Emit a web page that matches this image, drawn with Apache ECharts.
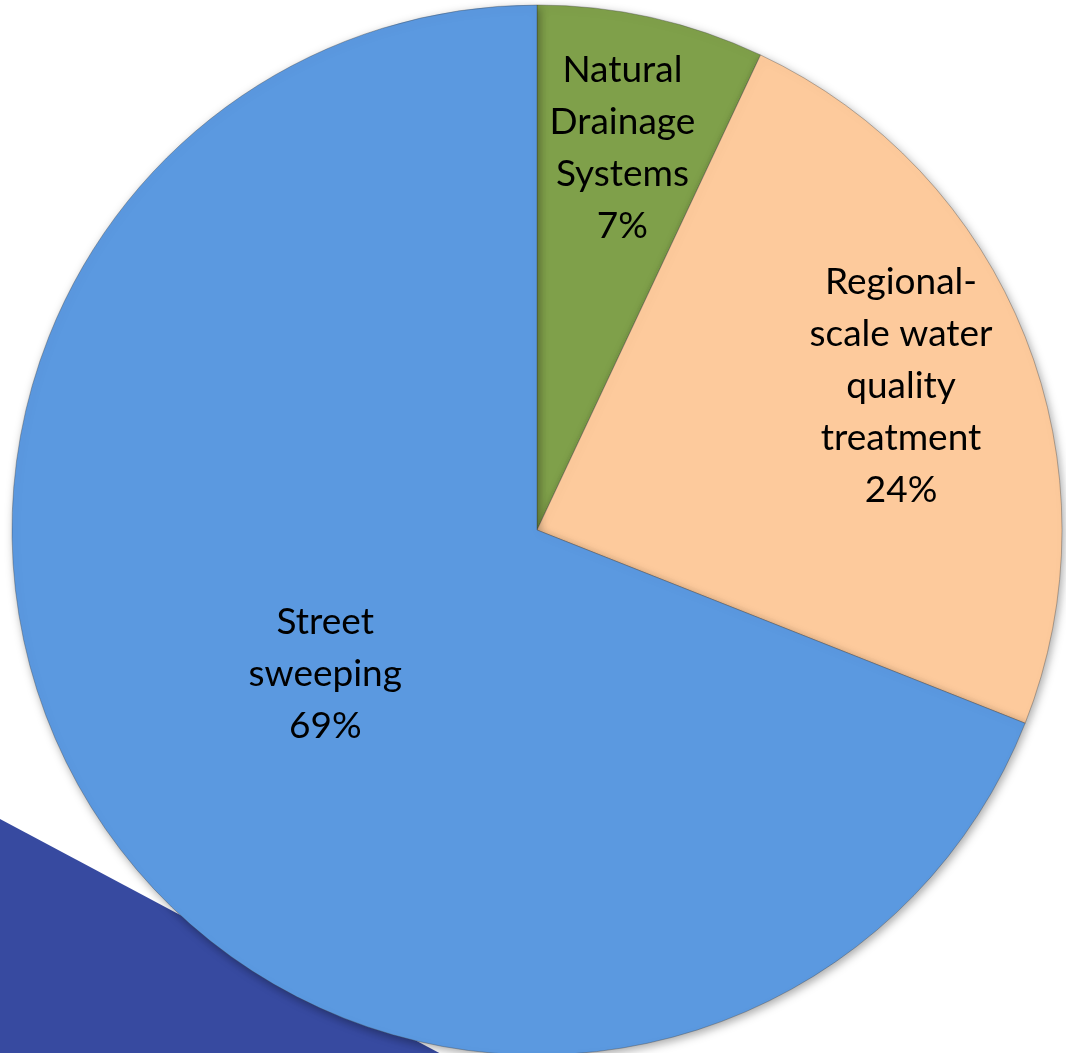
<!DOCTYPE html>
<html>
<head>
<meta charset="utf-8">
<script src="https://cdn.jsdelivr.net/npm/echarts@6/dist/echarts.min.js"></script>
<style>
html,body{margin:0;padding:0;background:#fff;}
#chart{width:1066px;height:1053px;}
</style>
</head>
<body>
<div id="chart"></div>
<script>
const categories = ["Natural\nDrainage\nSystems", "Regional-\nscale water\nquality\ntreatment", "Street\nsweeping"];
const values = [7, 24, 69];
const percentLabels = ["7%", "24%", "69%"];
const colors = ["#7fa04a", "#fdca9c", "#5b99e0"];

const chart = echarts.init(document.getElementById('chart'));
const R = 525;
const center = [537, 530];
const fontFam = 'Lato, "Open Sans", sans-serif';

function labelData(showIdx) {
  return categories.map((c, i) => ({
    name: c,
    value: values[i],
    label: { show: showIdx.includes(i) }
  }));
}

const labelStyle = {
  position: 'inside',
  formatter: p => p.name + '\n' + percentLabels[p.dataIndex],
  fontFamily: fontFam,
  fontSize: 37,
  lineHeight: 52,
  color: '#000',
  align: 'center'
};

const mainData = categories.map((c, i) => ({
  name: c,
  value: values[i],
  itemStyle: { color: colors[i] }
}));

function labelSeries(radius, showIdx) {
  return {
    type: 'pie',
    z: 3,
    center: center,
    radius: radius,
    startAngle: 90,
    clockwise: true,
    silent: true,
    data: labelData(showIdx),
    itemStyle: { color: 'rgba(0,0,0,0)', borderWidth: 0 },
    label: labelStyle,
    labelLine: { show: false },
    emphasis: { disabled: true }
  };
}

const option = {
  animation: false,
  graphic: [{
    type: 'polygon',
    z: -10,
    shape: { points: [[0, 819], [490, 1080], [0, 1080]] },
    style: { fill: '#374aa0' }
  }],
  series: [
    {
      type: 'pie',
      z: 2,
      center: center,
      radius: [0, R],
      startAngle: 90,
      clockwise: true,
      data: mainData,
      itemStyle: {
        borderColor: 'rgba(60,60,60,0.35)',
        borderWidth: 1,
        shadowBlur: 10,
        shadowColor: 'rgba(0,0,0,0.35)',
        shadowOffsetX: 2,
        shadowOffsetY: 3
      },
      label: { show: false },
      labelLine: { show: false },
      silent: true
    },
    labelSeries([R * 0.48, R], [0, 1]),
    labelSeries([0, 506], [2])
  ]
};
chart.setOption(option);
</script>
</body>
</html>
